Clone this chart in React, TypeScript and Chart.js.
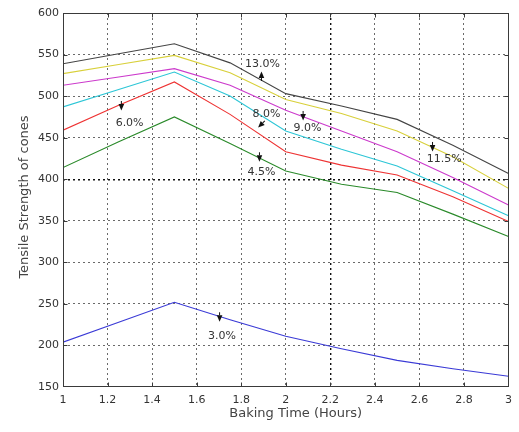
import React, { useEffect, useRef } from "react";
import { Chart, registerables } from "chart.js";

Chart.register(...registerables);

// Baking time (hours) at which the curves are sampled
const hours = [1, 1.25, 1.5, 1.75, 2, 2.25, 2.5, 2.75, 3];

// Tensile strength of cones for each moisture level
const strength3_0 = [204, 228, 252, 231, 211, 196, 182, 172, 163];
const strength4_5 = [414, 445, 475, 443, 410, 394, 384, 358, 331];
const strength6_0 = [459, 489, 517, 478, 433, 417, 405, 379, 349];
const strength8_0 = [487, 508, 529, 500, 458, 436, 416, 386, 356];
const strength9_0 = [513, 523, 533, 513, 483, 458, 433, 402, 369];
const strength11_5 = [527, 538, 549, 528, 496, 479, 458, 427, 389];
const strength13_0 = [539, 551, 563, 540, 503, 488, 472, 441, 407];

const seriesLabels = ["3.0%", "4.5%", "6.0%", "8.0%", "9.0%", "11.5%", "13.0%"];
const seriesValues = [strength3_0, strength4_5, strength6_0, strength8_0, strength9_0, strength11_5, strength13_0];
const seriesColors = ["#3a3ad6", "#2a8a2a", "#ee3333", "#2cc6d6", "#cc3acc", "#d8d03a", "#444444"];

const xTicks = [1, 1.2, 1.4, 1.6, 1.8, 2, 2.2, 2.4, 2.6, 2.8, 3];
const yTicks = [150, 200, 250, 300, 350, 400, 450, 500, 550, 600];

const xTitle = "Baking Time (Hours)";
const yTitle = "Tensile Strength of cones";

// In-plot labels: text anchor and arrow-head anchor in data coordinates
const labelTexts = ["13.0%", "6.0%", "8.0%", "9.0%", "4.5%", "11.5%", "3.0%"];
const labelTextX = [1.895, 1.299, 1.913, 2.098, 1.891, 2.711, 1.714];
const labelTextY = [538.6, 467.6, 478.5, 461.6, 408.1, 424.3, 211.4];
const labelArrowX = [1.891, 1.262, 1.887, 2.078, 1.882, 2.659, 1.703];
const labelArrowY = [525.4, 486.9, 465.2, 474.9, 425.2, 437.6, 232.7];
const labelArrowDir = ["up", "down", "downleft", "down", "down", "down", "down"];

const FONT = '"DejaVu Sans", "Liberation Sans", Arial, sans-serif';

const fmtX = (v: number) => {
  const s = Number(v).toFixed(1);
  return s.endsWith(".0") ? s.slice(0, -2) : s;
};

const overlayPlugin = {
  id: "overlay",
  afterDatasetsDraw(chart: any) {
    const { ctx, chartArea: a, scales } = chart;
    const xs = scales.x;
    const ys = scales.y;
    ctx.save();

    // box
    const L = Math.round(a.left) + 0.5;
    const T = Math.round(a.top) + 0.5;
    const R = Math.round(a.right) - 0.5;
    const B = Math.round(a.bottom) - 0.5;
    ctx.strokeStyle = "#3a3a3a";
    ctx.lineWidth = 1;
    ctx.setLineDash([]);
    ctx.strokeRect(L, T, R - L, B - T);

    // inward tick marks (MATLAB style)
    const tl = 4;
    ctx.beginPath();
    xTicks.forEach((v) => {
      const px = Math.min(R, Math.max(L, Math.round(xs.getPixelForValue(v)) + 0.5));
      ctx.moveTo(px, B);
      ctx.lineTo(px, B - tl);
      ctx.moveTo(px, T);
      ctx.lineTo(px, T + tl);
    });
    yTicks.forEach((v) => {
      const py = Math.min(B, Math.max(T, Math.round(ys.getPixelForValue(v)) + 0.5));
      ctx.moveTo(L, py);
      ctx.lineTo(L + tl, py);
      ctx.moveTo(R, py);
      ctx.lineTo(R - tl, py);
    });
    ctx.stroke();

    // labels with arrow heads
    ctx.font = `11px ${FONT}`;
    ctx.fillStyle = "#333";
    ctx.textAlign = "center";
    ctx.textBaseline = "middle";
    labelTexts.forEach((t, i) => {
      const tx = xs.getPixelForValue(labelTextX[i]);
      const ty = ys.getPixelForValue(labelTextY[i]);
      ctx.fillText(t, tx, ty);
      const ax = xs.getPixelForValue(labelArrowX[i]);
      const ay = ys.getPixelForValue(labelArrowY[i]);
      const dir = labelArrowDir[i];
      ctx.save();
      ctx.translate(ax, ay);
      let rot = 0;
      if (dir === "up") rot = Math.PI;
      if (dir === "downleft") rot = Math.PI / 4;
      ctx.rotate(rot);
      ctx.fillStyle = "#111";
      ctx.strokeStyle = "#111";
      ctx.beginPath();
      ctx.moveTo(0, 3.5);
      ctx.lineTo(-2.8, -3);
      ctx.lineTo(2.8, -3);
      ctx.closePath();
      ctx.fill();
      ctx.beginPath();
      ctx.lineWidth = 1;
      ctx.moveTo(0, -3);
      ctx.lineTo(0, -6);
      ctx.stroke();
      ctx.restore();
    });

    // axis titles
    ctx.fillStyle = "#444";
    ctx.font = `13px ${FONT}`;
    ctx.textAlign = "center";
    ctx.textBaseline = "middle";
    ctx.fillText(xTitle, (a.left + a.right) / 2 + 10, a.bottom + 27);
    ctx.save();
    ctx.translate(25, (a.top + a.bottom) / 2 - 3);
    ctx.rotate(-Math.PI / 2);
    ctx.font = `13px ${FONT}`;
    ctx.fillText(yTitle, 0, 0);
    ctx.restore();

    ctx.restore();
  },
};

export default function App() {
  const ref = useRef<HTMLCanvasElement | null>(null);

  useEffect(() => {
    if (!ref.current) return;
    const datasets = seriesLabels.map((label, i) => ({
      label,
      data: hours.map((h, j) => ({ x: h, y: seriesValues[i][j] })),
      borderColor: seriesColors[i],
      backgroundColor: seriesColors[i],
      borderWidth: 1.1,
      pointRadius: 0,
      tension: 0,
      fill: false,
    }));

    const near = (a: number, b: number) => Math.abs(a - b) < 1e-6;
    const gridColor = (edgeA: number, edgeB: number, strong: number) => (c: any) => {
      const v = c.tick ? c.tick.value : NaN;
      if (near(v, edgeA) || near(v, edgeB)) return "rgba(0,0,0,0)";
      if (near(v, strong)) return "#111";
      return "#6a6a6a";
    };
    const gridWidth = (strong: number) => (c: any) => {
      const v = c.tick ? c.tick.value : NaN;
      return near(v, strong) ? 1.4 : 1;
    };

    const chart = new Chart(ref.current, {
      type: "line",
      data: { datasets },
      plugins: [overlayPlugin],
      options: {
        animation: false,
        responsive: false,
        maintainAspectRatio: false,
        layout: { padding: { top: 13, right: 10, left: 0, bottom: 0 } },
        plugins: {
          legend: { display: false },
          tooltip: { enabled: false },
          title: { display: false },
        },
        scales: {
          x: {
            type: "linear",
            min: 1,
            max: 3,
            afterBuildTicks: (s: any) => {
              s.ticks = xTicks.map((v) => ({ value: v }));
            },
            afterFit: (s: any) => {
              s.height = 45;
            },
            border: { display: false, dash: [2, 3] },
            grid: {
              drawTicks: false,
              color: gridColor(1, 3, 2.2),
              lineWidth: gridWidth(2.2),
            },
            ticks: {
              padding: 7,
              color: "#333",
              font: { family: FONT, size: 11 },
              maxRotation: 0,
              autoSkip: false,
              callback: (v: any) => fmtX(Number(v)),
            },
          },
          y: {
            type: "linear",
            min: 150,
            max: 600,
            afterBuildTicks: (s: any) => {
              s.ticks = yTicks.map((v) => ({ value: v }));
            },
            afterFit: (s: any) => {
              s.width = 63;
            },
            border: { display: false, dash: [2, 3] },
            grid: {
              drawTicks: false,
              color: gridColor(150, 600, 400),
              lineWidth: gridWidth(400),
            },
            ticks: {
              padding: 4,
              color: "#333",
              font: { family: FONT, size: 11 },
              autoSkip: false,
              callback: (v: any) => String(v),
            },
          },
        },
      } as any,
    });

    return () => chart.destroy();
  }, []);

  return (
    <div style={{ position: "absolute", left: 0, top: 0, width: 519, height: 432, background: "#fff" }}>
      <canvas ref={ref} width={519} height={432} style={{ display: "block" }} />
    </div>
  );
}
